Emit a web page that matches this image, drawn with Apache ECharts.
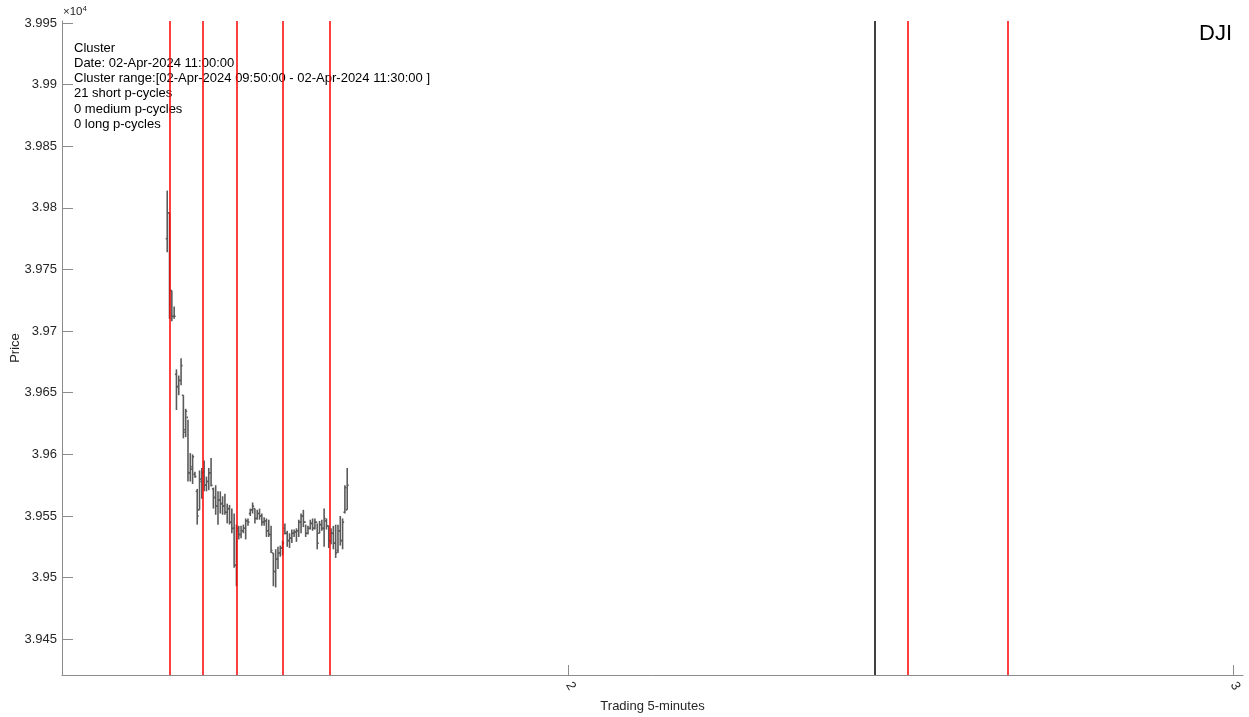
<!DOCTYPE html>
<html><head><meta charset="utf-8">
<script src="https://cdn.jsdelivr.net/npm/echarts@6/dist/echarts.min.js"></script>
<style>html,body{margin:0;padding:0;background:#fff}#c{width:1249px;height:717px}</style>
</head><body><div id="c"></div>
<script>
// 5-minute bars of 01-Apr-2024 (day 1), starting 09:30
const barDay = 1;
const barStart = '09:30';
const barOpen  = [39775,39796,39733,39712,39665,39655,39660,39648,39618,39630,39585,39588,39584,39570,39555,39578,39586,39575,39578,39585,
                  39572,39565,39558,39563,39560,39558,39553,39556,39545,39540,39510,39538,39535,39538,39540,39546,39552,39555,39556,39548,
                  39552,39550,39545,39546,39538,39535,39520,39505,39515,39520,39524,39540,39536,39530,39532,39536,39537,39538,39545,39550,
                  39545,39536,39540,39544,39540,39545,39536,39543,39540,39546,39542,39530,39536,39528,39522,39538,39530,39553,39555];
const barHigh  = [39814,39796,39733,39720,39669,39664,39678,39648,39637,39628,39601,39600,39586,39572,39587,39589,39595,39582,39589,39597,
                  39573,39575,39570,39570,39566,39568,39560,39559,39556,39552,39543,39542,39542,39543,39548,39548,39556,39561,39556,39555,
                  39556,39552,39549,39548,39547,39542,39520,39523,39525,39526,39530,39544,39538,39536,39539,39539,39540,39547,39552,39555,
                  39543,39542,39547,39548,39548,39544,39546,39547,39556,39548,39542,39540,39542,39543,39543,39550,39548,39575,39589];
const barLow   = [39764,39710,39708,39710,39636,39648,39656,39613,39614,39578,39578,39576,39581,39543,39555,39564,39570,39570,39571,39574,
                  39556,39551,39543,39552,39551,39551,39544,39543,39536,39508,39493,39531,39532,39536,39531,39542,39550,39552,39544,39547,
                  39547,39542,39542,39533,39533,39520,39493,39492,39507,39517,39518,39535,39525,39524,39528,39533,39529,39533,39536,39541,
                  39533,39535,39539,39538,39539,39523,39536,39538,39525,39539,39524,39527,39523,39516,39520,39526,39523,39552,39555];
const barClose = [39796,39733,39712,39712,39655,39660,39672,39620,39635,39585,39590,39598,39582,39550,39580,39585,39575,39578,39585,39575,
                  39565,39558,39563,39560,39558,39553,39556,39545,39540,39510,39540,39535,39538,39540,39546,39545,39555,39558,39548,39552,
                  39550,39545,39546,39538,39535,39522,39505,39515,39520,39524,39528,39536,39530,39532,39536,39537,39538,39545,39550,39545,
                  39536,39540,39544,39540,39545,39528,39543,39540,39548,39542,39530,39536,39528,39520,39538,39530,39545,39573,39575];
// vertical markers: [day, time]
const redLines   = [[1,'09:40'],[1,'10:45'],[1,'11:55'],[1,'13:40'],[1,'15:25'],[2,'12:10'],[2,'15:50']];
const blackLines = [[2,'11:00']];
// axes
const xTicks = [2, 3];
const yTicks = [39450,39500,39550,39600,39650,39700,39750,39800,39850,39900,39950];
const xRange = [1.2375, 3.0146];
const yRange = [39421, 39951.6];
const infoLines = ['Cluster','Date: 02-Apr-2024 11:00:00','Cluster range:[02-Apr-2024 09:50:00 - 02-Apr-2024 11:30:00 ]','21 short p-cycles','0 medium p-cycles','0 long p-cycles'];
const symbolName = 'DJI';

function toDay(day, hm){ const p = hm.split(':'); return day + (parseInt(p[0])*60 + parseInt(p[1]))/1440; }
const startMin = toDay(0, barStart)*1440;
const ohlc = barHigh.map((h,i)=>[barDay + (startMin + 5*i)/1440, barOpen[i], h, barLow[i], barClose[i]]);

const FONT = 'Liberation Sans, Arial, Helvetica, sans-serif';
const chart = echarts.init(document.getElementById('c'), null, {renderer:'canvas'});
chart.setOption({
  animation:false,
  backgroundColor:'#ffffff',
  grid:{left:62, right:6, top:21, bottom:42, containLabel:false, outerBoundsMode:'none'},
  xAxis:{
    type:'value', min:xRange[0], max:xRange[1],
    axisLine:{show:true, onZero:false, lineStyle:{color:'#8c8c8c', width:1}},
    axisTick:{show:true, inside:true, length:10, customValues:xTicks, lineStyle:{color:'#8c8c8c'}},
    axisLabel:{show:true, customValues:xTicks, rotate:-60, color:'#262626', fontSize:13, fontFamily:FONT, margin:8, formatter:v=>String(v)},
    splitLine:{show:false},
    name:'Trading 5-minutes', nameLocation:'middle', nameGap:24,
    nameTextStyle:{color:'#262626', fontSize:13, fontFamily:FONT}
  },
  yAxis:{
    type:'value', min:yRange[0], max:yRange[1],
    axisLine:{show:true, onZero:false, lineStyle:{color:'#8c8c8c', width:1}},
    axisTick:{show:true, inside:true, length:11, customValues:yTicks, lineStyle:{color:'#8c8c8c'}},
    axisLabel:{show:true, customValues:yTicks, color:'#262626', fontSize:13, fontFamily:FONT, margin:5,
      formatter:v=>String(parseFloat((v/1e4).toFixed(4)))},
    splitLine:{show:false},
    name:'Price', nameLocation:'middle', nameGap:40, nameRotate:90, nameMoveOverlap:false,
    nameTextStyle:{color:'#262626', fontSize:13, fontFamily:FONT}
  },
  series:[
    {
      type:'custom', data:ohlc, silent:true, clip:true,
      encode:{x:0, y:[1,2,3,4]},
      renderItem:function(params, api){
        const x = api.value(0);
        const pH = api.coord([x, api.value(2)]);
        const pL = api.coord([x, api.value(3)]);
        const pO = api.coord([x, api.value(1)]);
        const pC = api.coord([x, api.value(4)]);
        const st = {stroke:'#5a5a5a', lineWidth:1.6};
        return {type:'group', children:[
          {type:'line', shape:{x1:pH[0], y1:pH[1], x2:pL[0], y2:pL[1]}, style:st},
          {type:'line', shape:{x1:pO[0]-1.5, y1:pO[1], x2:pO[0], y2:pO[1]}, style:st},
          {type:'line', shape:{x1:pC[0], y1:pC[1], x2:pC[0]+1.5, y2:pC[1]}, style:st}
        ]};
      }
    },
    {
      type:'line', data:[], silent:true,
      markLine:{silent:true, symbol:['none','none'], label:{show:false},
        lineStyle:{color:'#ff0000', width:1.5, type:'solid'},
        data:redLines.map(r=>({xAxis:toDay(r[0], r[1])}))}
    },
    {
      type:'line', data:[], silent:true,
      markLine:{silent:true, symbol:['none','none'], label:{show:false},
        lineStyle:{color:'#000000', width:1.5, type:'solid'},
        data:blackLines.map(r=>({xAxis:toDay(r[0], r[1])}))}
    }
  ],
  graphic:[
    {type:'text', left:63, top:5, style:{text:'{a|×10}{b|4}', rich:{a:{fontSize:11.5, fill:'#262626', fontFamily:FONT}, b:{fontSize:8, fill:'#262626', fontFamily:FONT, verticalAlign:'top', padding:[0,0,6,0]}}}},
    {type:'text', left:74, top:41, style:{text:infoLines.join('\n'), fontSize:13, lineHeight:15.1, fill:'#000', fontFamily:FONT}},
    {type:'text', right:17, top:23, style:{text:symbolName, fontSize:22, fill:'#000', fontFamily:FONT}}
  ]
});
</script></body></html>
